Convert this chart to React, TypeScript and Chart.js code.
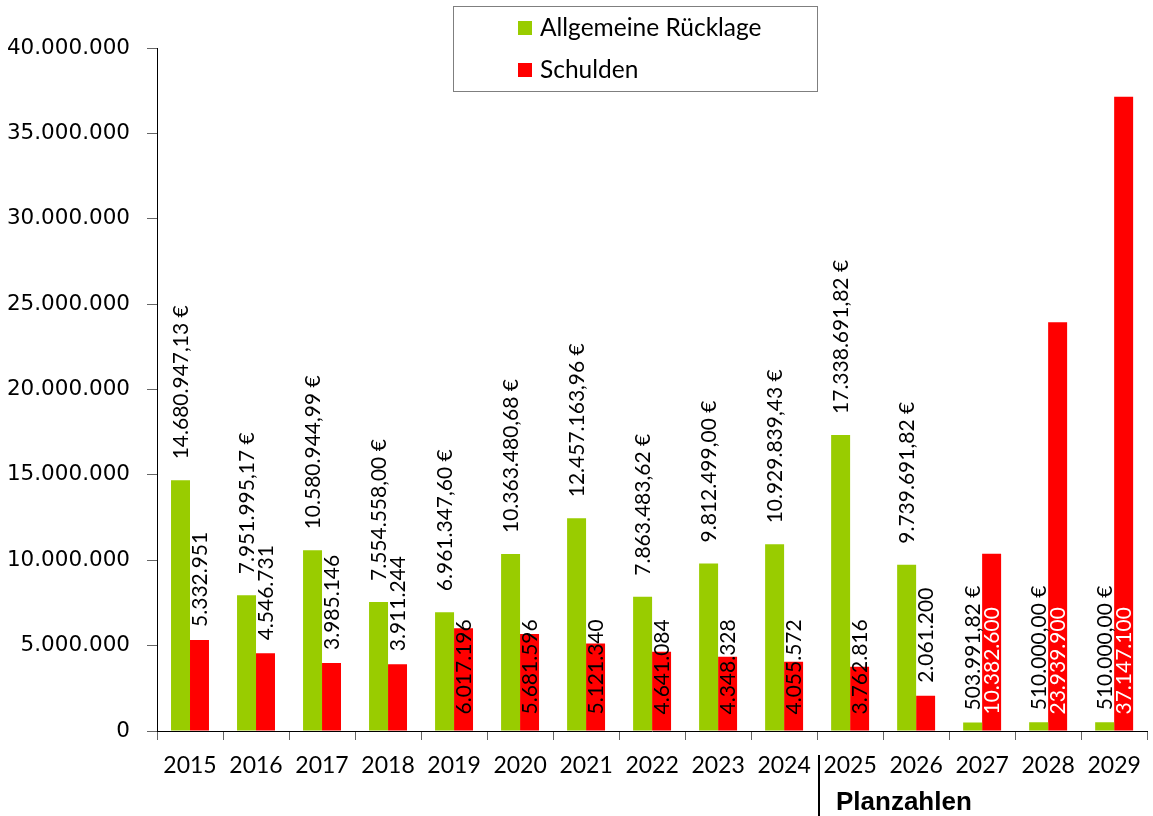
import React, { useEffect, useRef } from 'react';
import { Chart, registerables } from 'chart.js';

Chart.register(...registerables);

const years = ['2015', '2016', '2017', '2018', '2019', '2020', '2021', '2022', '2023', '2024', '2025', '2026', '2027', '2028', '2029'];
const ruecklage = [14680947.13, 7951995.17, 10580944.99, 7554558.0, 6961347.6, 10363480.68, 12457163.96, 7863483.62, 9812499.0, 10929839.43, 17338691.82, 9739691.82, 503991.82, 510000.0, 510000.0];
const schulden = [5332951, 4546731, 3985146, 3911244, 6017196, 5681596, 5121340, 4641084, 4348328, 4055572, 3762816, 2061200, 10382600, 23939900, 37147100];
const yTicks = [0, 5000000, 10000000, 15000000, 20000000, 25000000, 30000000, 35000000, 40000000];
const seriesNames = ['Allgemeine Rücklage', 'Schulden'];
const planLabel = 'Planzahlen';

// label placement for the Schulden values: 'out' above bar, 'base' inside at the bottom
const schuldenLabelMode = ['out', 'out', 'out', 'out', 'base', 'base', 'base', 'base', 'base', 'base', 'base', 'out', 'base', 'base', 'base'];
const schuldenLabelColor = ['#000', '#000', '#000', '#000', '#000', '#000', '#000', '#000', '#000', '#000', '#000', '#000', '#fff', '#fff', '#fff'];

const GREEN = '#99CC00';
const RED = '#FF0000';
const LABEL_FONT = '21px Lato';

function groupThousands(s: string): string {
  return s.replace(/\B(?=(\d{3})+(?!\d))/g, '.');
}
function fmtInt(v: number): string {
  return groupThousands(Math.round(v).toString());
}
function fmtEuro(v: number): string {
  const fixed = v.toFixed(2);
  const [i, d] = fixed.split('.');
  return groupThousands(i) + ',' + d + ' €';
}

function drawRotated(ctx: CanvasRenderingContext2D, text: string, x: number, y: number, color: string) {
  ctx.save();
  ctx.translate(x, y);
  ctx.rotate(-Math.PI / 2);
  ctx.fillStyle = color;
  ctx.textAlign = 'left';
  ctx.textBaseline = 'middle';
  ctx.fillText(text, 0, 1);
  ctx.restore();
}

const labelPlugin = {
  id: 'valueLabels',
  afterDatasetsDraw(chart: any) {
    const ctx: CanvasRenderingContext2D = chart.ctx;
    ctx.save();
    ctx.font = LABEL_FONT;
    const m1 = chart.getDatasetMeta(1);
    m1.data.forEach((bar: any, i: number) => {
      const p = bar.getProps(['x', 'y', 'base'], true);
      const start = schuldenLabelMode[i] === 'out' ? p.y - 13 : p.base - 16;
      drawRotated(ctx, fmtInt(schulden[i]), p.x, start, schuldenLabelColor[i]);
    });
    const m0 = chart.getDatasetMeta(0);
    m0.data.forEach((bar: any, i: number) => {
      const p = bar.getProps(['x', 'y', 'base'], true);
      const h = p.base - p.y;
      const gap = h < 20 ? 12 : 21;
      drawRotated(ctx, fmtEuro(ruecklage[i]), p.x, p.y - gap, '#000');
    });
    ctx.restore();
  },
  afterDraw(chart: any) {
    const ctx: CanvasRenderingContext2D = chart.ctx;
    ctx.save();
    // legend box
    ctx.strokeStyle = '#7f7f7f';
    ctx.lineWidth = 1;
    ctx.strokeRect(453.5, 6.5, 364, 85);
    ctx.fillStyle = GREEN;
    ctx.fillRect(518, 21, 14, 14);
    ctx.fillStyle = RED;
    ctx.fillRect(518, 63, 14, 14);
    ctx.fillStyle = '#000';
    ctx.font = '24.5px Lato';
    ctx.textAlign = 'left';
    ctx.textBaseline = 'middle';
    ctx.fillText(seriesNames[0], 540, 28);
    ctx.fillText(seriesNames[1], 540, 70);
    // plan separator
    const xs = chart.scales.x;
    const sepX = Math.round((xs.getPixelForValue(9) + xs.getPixelForValue(10)) / 2) + 2;
    ctx.strokeStyle = '#000';
    ctx.lineWidth = 2;
    ctx.beginPath();
    ctx.moveTo(sepX, 755);
    ctx.lineTo(sepX, 816);
    ctx.stroke();
    ctx.font = 'bold 26px "Liberation Sans", Arial, sans-serif';
    ctx.fillText(planLabel, sepX + 17, 803);
    ctx.restore();
  },
};

export default function App() {
  const ref = useRef<HTMLCanvasElement | null>(null);
  useEffect(() => {
    document.body.style.margin = '0';
    const canvas = ref.current;
    if (!canvas) return;
    const chart = new Chart(canvas, {
      type: 'bar',
      data: {
        labels: years,
        datasets: [
          { label: seriesNames[0], data: ruecklage, backgroundColor: GREEN, borderWidth: 0, barPercentage: 1, categoryPercentage: 0.575 },
          { label: seriesNames[1], data: schulden, backgroundColor: RED, borderWidth: 0, barPercentage: 1, categoryPercentage: 0.575 },
        ],
      },
      options: {
        responsive: false,
        animation: false,
        devicePixelRatio: 1,
        layout: { padding: { top: 48, right: 5, left: 0, bottom: 0 } },
        plugins: { legend: { display: false }, tooltip: { enabled: false } },
        scales: {
          x: {
            offset: true,
            grid: { display: true, drawOnChartArea: false, drawTicks: true, tickLength: 9, color: '#666', offset: true },
            border: { display: true, color: '#000', width: 1 },
            ticks: { font: { family: 'Lato', size: 23 }, color: '#000', padding: 12, maxRotation: 0, autoSkip: false },
            afterFit: (s: any) => { s.height = 85; },
          },
          y: {
            min: 0,
            max: 40000000,
            afterBuildTicks: (s: any) => { s.ticks = yTicks.map((v) => ({ value: v })); },
            grid: { display: true, drawOnChartArea: false, drawTicks: true, tickLength: 10, color: '#666' },
            border: { display: true, color: '#000', width: 1 },
            ticks: { font: { family: 'DejaVu Sans', size: 21.5 }, color: '#000', padding: 17, callback: (v: any) => fmtInt(Number(v)) },
            afterFit: (s: any) => { s.width = 157; },
          },
        },
      },
      plugins: [labelPlugin],
    });
    return () => chart.destroy();
  }, []);
  return <canvas ref={ref} width={1153} height={816} style={{ display: 'block' }} />;
}
